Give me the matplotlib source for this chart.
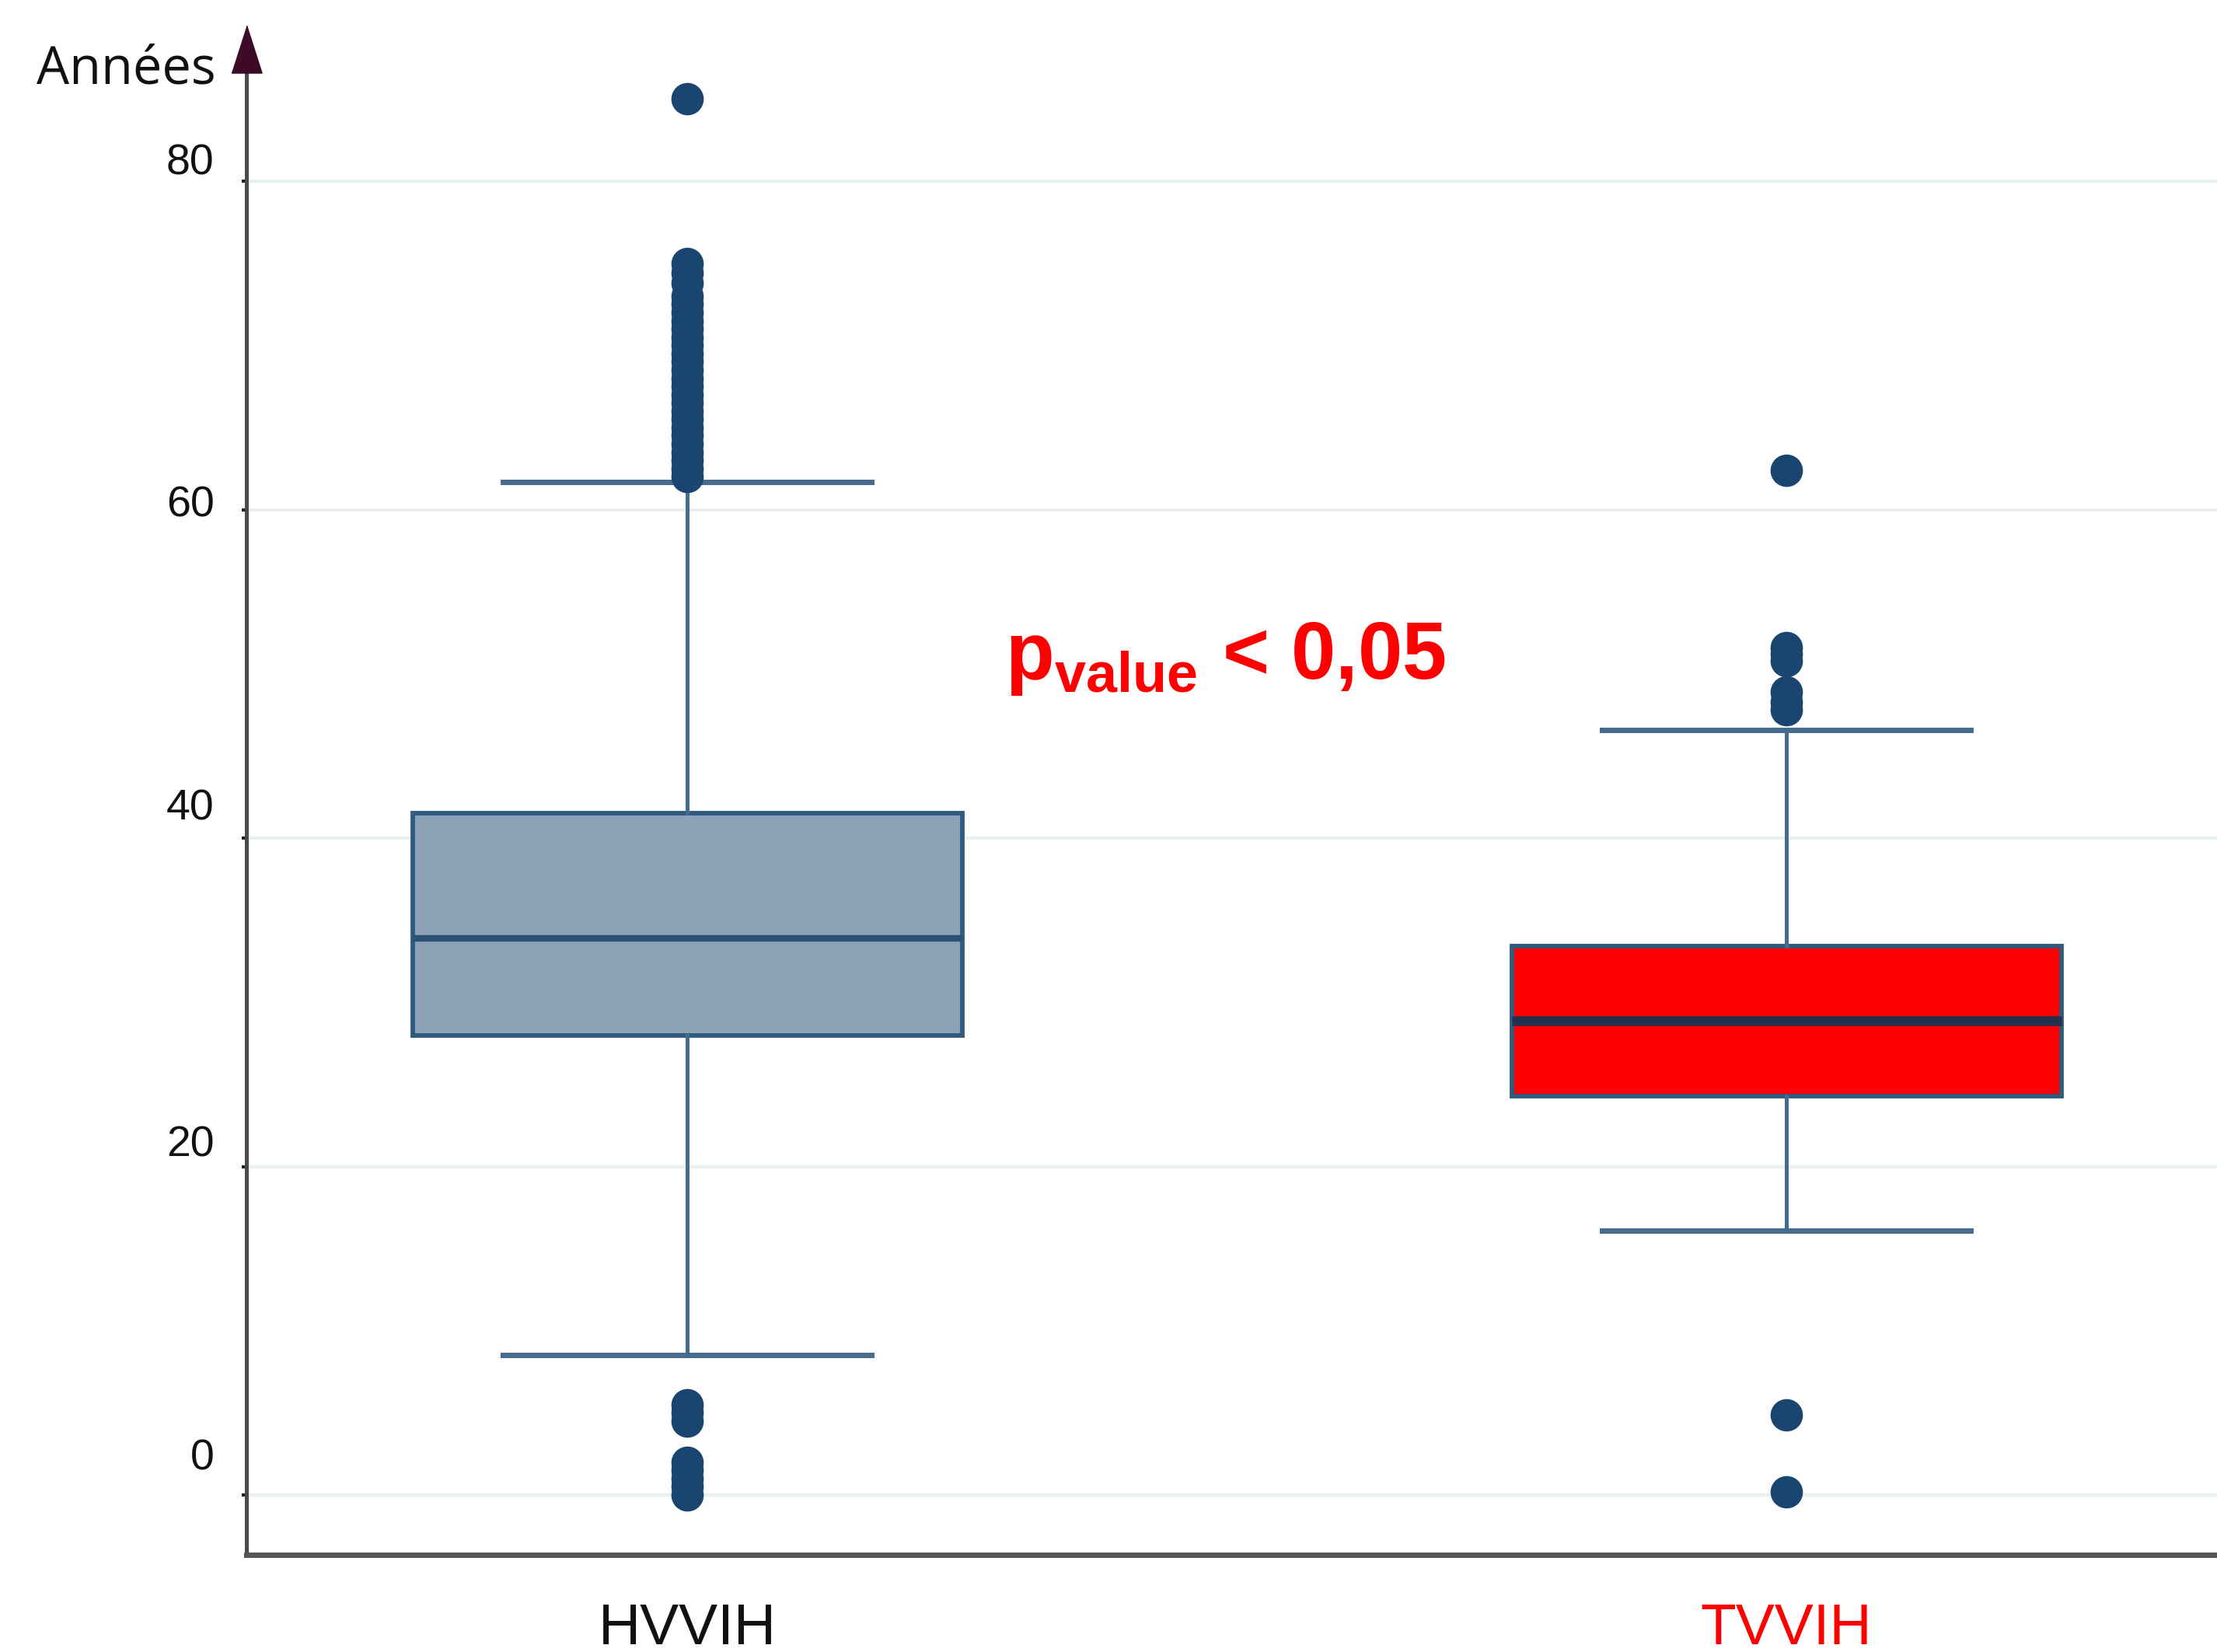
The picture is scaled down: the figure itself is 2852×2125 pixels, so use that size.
import matplotlib.pyplot as plt
from matplotlib.transforms import ScaledTranslation, blended_transform_factory

# groups
groups = ["HVVIH", "TVVIH"]
label_colors = ["#111111", "#ff0000"]

# box stats (years)
medians = [33.9, 28.9]
q1s = [28.0, 24.3]
q3s = [41.5, 33.4]
whis_low = [8.5, 16.1]
whis_high = [61.7, 46.6]

# outliers
fliers_hvvih = [0, 0.5, 1, 1.5, 2, 4.5, 5, 5.5,
                62, 62.5, 63, 63.5, 64, 64.5, 65, 65.5, 66, 66.5, 67, 67.5,
                68, 68.5, 69, 69.5, 70, 70.5, 71, 71.5, 72, 72.5, 73,
                73.8, 74.4, 75, 85]
fliers_tvvih = [0.2, 4.9, 47.8, 48.3, 48.9, 50.8, 51.2, 51.6, 62.4]

y_ticks = [0, 20, 40, 60, 80]
y_label_shift = [53, 33, 44, 11, 29]  # px, labels sit above their ticks

plt.rcParams['mathtext.fontset'] = 'custom'
plt.rcParams['mathtext.bf'] = 'Liberation Sans:bold'
plt.rcParams['mathtext.rm'] = 'Liberation Sans'

fig = plt.figure(figsize=(28.52, 21.25), dpi=100)
ax = fig.add_axes([0.1112, 0.0588, 0.8888, 0.9412])

stats = []
for i, g in enumerate(groups):
    stats.append({
        "label": g,
        "med": medians[i],
        "q1": q1s[i],
        "q3": q3s[i],
        "whislo": whis_low[i],
        "whishi": whis_high[i],
        "fliers": [fliers_hvvih, fliers_tvvih][i],
    })

bp = ax.bxp(stats, positions=[1, 2], widths=0.5, capwidths=0.335,
            patch_artist=True, showfliers=True,
            boxprops=dict(edgecolor='#305a7e', linewidth=4.2),
            whiskerprops=dict(color='#456b8e', linewidth=3.6),
            capprops=dict(color='#456b8e', linewidth=5),
            medianprops=dict(color='#2a5074', linewidth=6),
            flierprops=dict(marker='o', markersize=29, markerfacecolor='#1a4570',
                            markeredgecolor='#1a4570', linestyle='none'))

bp['boxes'][0].set_facecolor('#8ca2b7')
bp['boxes'][1].set_facecolor('#ff0000')
bp['medians'][1].set_color('#22314f')
bp['medians'][1].set_linewidth(9)
for m in bp['medians']:
    m.set_zorder(3)

ax.set_xlim(0.599, 2.3917)
ax.set_ylim(-3.645, 91.03)

# grid
for yv in y_ticks:
    ax.axhline(yv, color='#e8f0f2', linewidth=3, zorder=0)

# spines
for s in ['top', 'right']:
    ax.spines[s].set_visible(False)
ax.spines['left'].set_color('#4a4a4a')
ax.spines['bottom'].set_color('#555555')
ax.spines['left'].set_linewidth(3.6)
ax.spines['bottom'].set_linewidth(5)
ax.spines['left'].set_bounds(-3.645, 87)

# arrow head on the y axis
arrow_tr = blended_transform_factory(ax.transAxes, ax.transData)
ax.plot([0], [88.07], transform=arrow_tr, marker=[(-0.32, -0.5), (0.32, -0.5), (0, 0.5)],
        markersize=44, color='#3d0a28', clip_on=False, zorder=5)

# y ticks
ax.set_yticks(y_ticks)
ax.set_yticklabels([str(v) for v in y_ticks], family=['Liberation Sans Narrow', 'Liberation Sans'],
                   fontsize=40, color='#111111')
ax.tick_params(axis='y', length=4, width=3, color='#222222', pad=26)
for lab, sh in zip(ax.get_yticklabels(), y_label_shift):
    lab.set_transform(lab.get_transform() + ScaledTranslation(0, sh / 100, fig.dpi_scale_trans))

# x ticks
ax.set_xticks([1, 2])
ax.set_xticklabels(groups, family=['Liberation Sans Narrow', 'Liberation Sans'], fontsize=54)
ax.tick_params(axis='x', length=0, pad=44)
for lab, c in zip(ax.get_xticklabels(), label_colors):
    lab.set_color(c)

# axis title
fig.text(0.0165, 0.9496, "Années", fontsize=48, family='Open Sans', color='#111111',
         ha='left', va='baseline')

# p-value
ax.text(1.289, 49.7, r'$\mathbf{p}_{\mathbf{value}}$ < 0,05', fontsize=74, fontweight='bold',
        family='Liberation Sans', color='#ff0000', ha='left', va='baseline')

fig.savefig("out.png", dpi=100)
